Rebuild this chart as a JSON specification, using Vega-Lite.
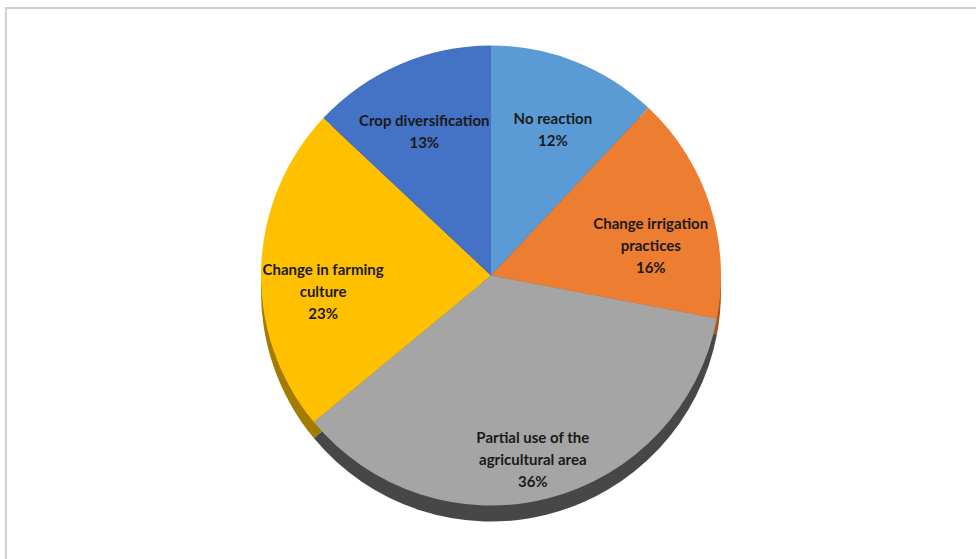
{
  "$schema": "https://vega.github.io/schema/vega-lite/v6.json",
  "autosize": "none",
  "width": 970,
  "height": 551,
  "padding": {"left": 6, "top": 8, "right": 0, "bottom": 0},
  "background": "white",
  "data": {
    "values": [
      {"category": "No reaction", "value": 12, "rank": 1, "label": "No reaction\n12%"},
      {"category": "Change irrigation practices", "value": 16, "rank": 2, "label": "Change irrigation\npractices\n16%"},
      {"category": "Partial use of the agricultural area", "value": 36, "rank": 3, "label": "Partial use of the\nagricultural area\n36%"},
      {"category": "Change in farming culture", "value": 23, "rank": 4, "label": "Change in farming\nculture\n23%"},
      {"category": "Crop diversification", "value": 13, "rank": 5, "label": "Crop diversification\n13%"}
    ]
  },
  "layer": [
    {
      "mark": {"type": "rect", "fill": null, "stroke": "#d0d0d0", "strokeWidth": 2, "x2Offset": 6, "y2Offset": 6},
      "encoding": {
        "x": {"value": 0},
        "x2": {"value": "width"},
        "y": {"value": 0},
        "y2": {"value": "height"}
      }
    },
    {
      "mark": {"type": "arc", "outerRadius": 230, "yOffset": 8},
      "encoding": {
        "theta": {"field": "value", "type": "quantitative", "stack": true},
        "order": {"field": "rank", "type": "quantitative"},
        "color": {
          "field": "category",
          "type": "nominal",
          "legend": null,
          "scale": {
            "domain": ["No reaction", "Change irrigation practices", "Partial use of the agricultural area", "Change in farming culture", "Crop diversification"],
            "range": ["#3d6c96", "#a3551f", "#474747", "#a27b00", "#2e4f8a"]
          }
        }
      }
    },
    {
      "mark": {"type": "arc", "outerRadius": 230, "yOffset": -8},
      "encoding": {
        "theta": {"field": "value", "type": "quantitative", "stack": true},
        "order": {"field": "rank", "type": "quantitative"},
        "color": {
          "field": "category",
          "type": "nominal",
          "legend": null,
          "scale": {
            "domain": ["No reaction", "Change irrigation practices", "Partial use of the agricultural area", "Change in farming culture", "Crop diversification"],
            "range": ["#5b9bd5", "#ed7d31", "#a5a5a5", "#ffc000", "#4472c4"]
          }
        }
      }
    },
    {
      "mark": {"type": "text", "radius": 168, "yOffset": -8, "font": "Lato", "fontWeight": "bold", "fontSize": 15, "lineBreak": "\n", "lineHeight": 22, "color": "#1a1a1a"},
      "encoding": {
        "theta": {"field": "value", "type": "quantitative", "stack": true},
        "order": {"field": "rank", "type": "quantitative"},
        "text": {"field": "label"}
      }
    }
  ],
  "resolve": {"scale": {"color": "independent"}}
}
